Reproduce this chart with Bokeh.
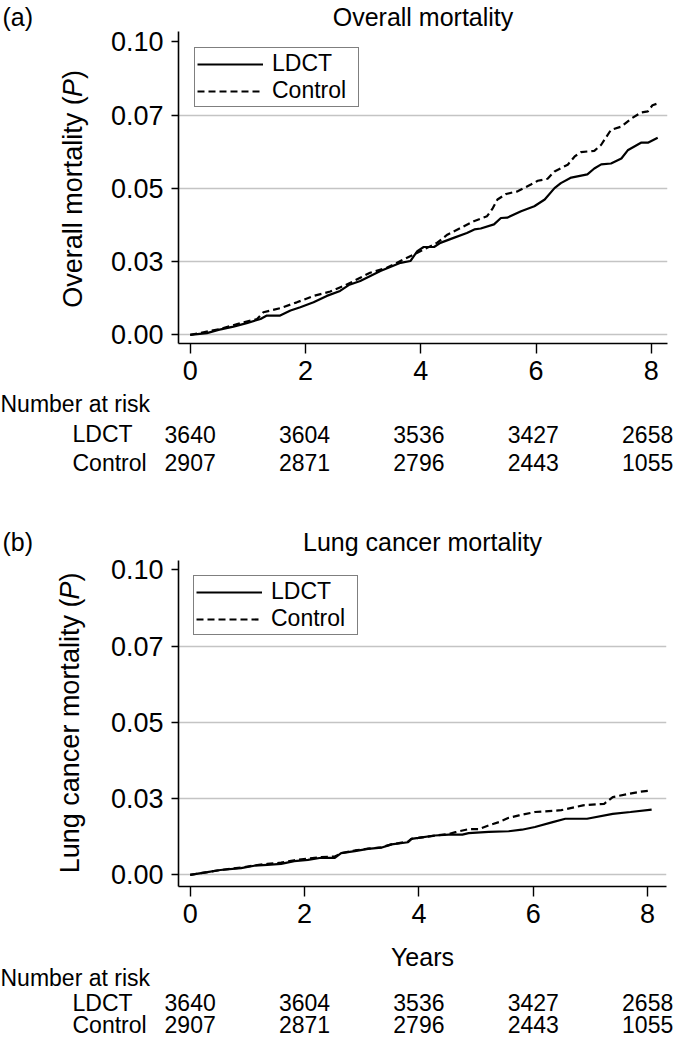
import math
from bokeh.plotting import figure
from bokeh.models import Range1d, FixedTicker, Legend, LegendItem, Title
from bokeh.core.properties import value
from bokeh.layouts import column, row
from bokeh.embed import file_html
from bokeh.resources import INLINE

# ---------------- data ----------------
years_ticks = [0, 2, 4, 6, 8]
y_ticks = [0.0, 0.025, 0.05, 0.075, 0.10]
y_tick_labels = ["0.00", "0.03", "0.05", "0.07", "0.10"]
grid_ticks = [0.0, 0.025, 0.05, 0.075]

risk_groups = ["LDCT", "Control"]
risk_ldct = [3640, 3604, 3536, 3427, 2658]
risk_control = [2907, 2871, 2796, 2443, 1055]

# (a) overall mortality
a_ldct_x = [0.0, 0.29, 0.49, 0.75, 0.98, 1.22, 1.33, 1.56, 1.74, 1.91, 2.14, 2.37, 2.6, 2.75,
            2.95, 3.3, 3.65, 3.82, 3.94, 4.05, 4.23, 4.34, 4.57, 4.8, 4.93, 5.04, 5.27, 5.39,
            5.5, 5.74, 5.97, 6.15, 6.32, 6.43, 6.61, 6.89, 7.01, 7.13, 7.3, 7.48, 7.59, 7.82,
            7.94, 8.11]
a_ldct_y = [0.0, 0.0006, 0.0017, 0.0028, 0.004, 0.0054, 0.0066, 0.0066, 0.0083, 0.0094,
            0.0111, 0.0133, 0.015, 0.017, 0.0184, 0.0218, 0.0246, 0.0252, 0.0286, 0.03, 0.03,
            0.0314, 0.0331, 0.0348, 0.036, 0.0363, 0.0377, 0.0399, 0.04, 0.0422, 0.0439,
            0.0462, 0.0501, 0.0518, 0.0537, 0.0548, 0.0568, 0.0582, 0.0585, 0.0602, 0.063,
            0.0656, 0.0656, 0.0673]
a_ctrl_x = [0.0, 0.52, 0.87, 1.16, 1.27, 1.56, 1.85, 2.14, 2.43, 2.7, 2.95, 3.12, 3.41, 3.7,
            3.94, 4.11, 4.28, 4.46, 4.69, 4.92, 5.15, 5.25, 5.33, 5.48, 5.68, 5.91, 6.03, 6.2,
            6.32, 6.55, 6.67, 6.78, 7.01, 7.13, 7.3, 7.48, 7.65, 7.82, 7.94, 8.02, 8.11]
a_ctrl_y = [0.0, 0.002, 0.004, 0.0054, 0.0077, 0.0091, 0.0111, 0.0133, 0.0148, 0.017, 0.0195,
            0.0212, 0.0229, 0.0257, 0.028, 0.0297, 0.0314, 0.0342, 0.0365, 0.0388, 0.0405,
            0.0433, 0.0462, 0.0481, 0.049, 0.0513, 0.0526, 0.0533, 0.0558, 0.0581, 0.0609,
            0.0624, 0.0628, 0.0649, 0.07, 0.0711, 0.0738, 0.0759, 0.0763, 0.0784, 0.079]

# (b) lung cancer mortality
b_ldct_x = [0.0, 0.3, 0.53, 0.89, 1.12, 1.35, 1.59, 1.82, 2.06, 2.29, 2.53, 2.64, 2.88, 3.11,
            3.34, 3.52, 3.81, 3.87, 3.99, 4.28, 4.52, 4.76, 4.87, 5.22, 5.57, 5.8, 6.03, 6.34,
            6.56, 6.94, 7.39, 7.7, 8.07]
b_ldct_y = [0.0, 0.0009, 0.0016, 0.0022, 0.003, 0.0033, 0.0036, 0.0045, 0.0049, 0.0056,
            0.0056, 0.0071, 0.0078, 0.0085, 0.0089, 0.01, 0.0107, 0.0118, 0.0121, 0.0129,
            0.0132, 0.0132, 0.0137, 0.0141, 0.0143, 0.0148, 0.0157, 0.0173, 0.0184, 0.0184,
            0.02, 0.0206, 0.0214]
b_ctrl_x = [0.0, 0.3, 0.53, 0.89, 1.12, 1.35, 1.59, 1.82, 2.06, 2.29, 2.53, 2.64, 2.88, 3.11,
            3.34, 3.52, 3.81, 3.87, 3.99, 4.28, 4.52, 4.64, 4.87, 5.05, 5.22, 5.4, 5.57, 5.75,
            6.03, 6.49, 6.87, 7.24, 7.39, 7.85, 8.07]
b_ctrl_y = [0.0, 0.0009, 0.0016, 0.0024, 0.0031, 0.0036, 0.004, 0.0048, 0.0053, 0.0058,
            0.006, 0.0071, 0.008, 0.0086, 0.009, 0.01, 0.0109, 0.0118, 0.0121, 0.0129, 0.0134,
            0.014, 0.015, 0.015, 0.0162, 0.0173, 0.0187, 0.0195, 0.0206, 0.0212, 0.0228,
            0.0233, 0.0255, 0.0272, 0.0277]

# ---------------- layout helpers ----------------
FONT = "Liberation Sans"
W = 674          # total width
YL_W = 100       # width of the y-label strip
PLOT_W = W - YL_W
PLOT_LEFT = 78   # border inside plot figure -> frame starts at x=178 overall
FRAME_LEFT = YL_W + PLOT_LEFT
MID = 0.3465     # distance (em) from the text's middle down to its baseline

CHAR_W = {"O": .778, "v": .5, "e": .556, "r": .333, "a": .556, "l": .222, " ": .278,
          "m": .833, "o": .556, "t": .278, "i": .222, "y": .5, "(": .333, ")": .333,
          "P": .667, "L": .556, "u": .556, "n": .556, "g": .556, "c": .5}


def text_w(s, size):
    return sum(CHAR_W.get(ch, .556) for ch in s) * size


def make_title(txt, align, standoff, offset=0):
    return Title(text=txt, align=align, standoff=standoff, offset=offset,
                 text_font=FONT, text_font_size="25px", text_font_style="normal",
                 text_color="black")


def blank(width, height, xr, yr, top=0, bottom=0):
    f = figure(width=width, height=height, output_backend="svg", toolbar_location=None,
               x_range=Range1d(*xr), y_range=Range1d(*yr), min_border=0,
               min_border_left=0, min_border_right=0, min_border_top=top,
               min_border_bottom=bottom,
               x_axis_location=None, y_axis_location=None, title=None)
    f.outline_line_color = None
    f.grid.visible = False
    f.background_fill_color = "white"
    f.border_fill_color = "white"
    return f


def put_text(f, x, y, txt, size, align="left", angle=0.0, style="normal"):
    f.text(x=[x], y=[y], text=[txt], text_font=value(FONT),
           text_font_size=value(f"{size}px"), text_color="black", text_align=align,
           text_baseline="middle", angle=angle, text_font_style=style)


def ylabel_fig(height, frame_h, bottom, letter, standoff, label, base_x, center_from_bottom):
    f = blank(YL_W, height, (0, YL_W), (0, frame_h), top=0, bottom=bottom)
    f.title = make_title(letter, "left", standoff, offset=2)
    size = 27
    pieces = [(label + " (", "normal"), ("P", "italic"), (")", "normal")]
    total = sum(text_w(s, size) for s, _ in pieces)
    y = center_from_bottom - total / 2.0
    xm = base_x - MID * size
    for s, st in pieces:
        w = text_w(s, size)
        put_text(f, xm, y + w / 2.0, s, size, align="center", angle=math.pi / 2,
                 style=st)
        y += w
    return f


def plot_fig(height, right, bottom, title, standoff, xr, yr, lx, ly, cx, cy, legend_margin):
    p = figure(width=PLOT_W, height=height, output_backend="svg", toolbar_location=None,
               x_range=Range1d(*xr), y_range=Range1d(*yr),
               min_border_left=PLOT_LEFT, min_border_right=right, min_border_top=0,
               min_border_bottom=bottom, title=make_title(title, "center", standoff))
    p.outline_line_color = None
    p.background_fill_color = "white"
    p.border_fill_color = "white"
    p.xgrid.visible = False
    p.ygrid.ticker = FixedTicker(ticks=grid_ticks)
    p.ygrid.grid_line_color = "#c4c4c4"
    p.ygrid.grid_line_width = 1.3
    for ax in (p.xaxis[0], p.yaxis[0]):
        ax.axis_line_width = 1.6
        ax.axis_line_color = "black"
        ax.major_tick_line_width = 1.4
        ax.major_tick_line_color = "black"
        ax.major_tick_in = 0
        ax.minor_tick_out = 0
        ax.minor_tick_in = 0
        ax.major_label_text_font = FONT
        ax.major_label_text_font_size = "27px"
        ax.major_label_text_color = "black"
    p.xaxis.ticker = FixedTicker(ticks=years_ticks)
    p.xaxis.major_tick_out = 10
    p.xaxis.major_label_standoff = 7
    p.yaxis.ticker = FixedTicker(ticks=y_ticks)
    p.yaxis.major_label_overrides = {t: s for t, s in zip(y_ticks, y_tick_labels)}
    p.yaxis.major_tick_out = 7
    p.yaxis.major_label_standoff = 8

    r1 = p.line(lx, ly, line_color="black", line_width=2.2)
    r2 = p.line(cx, cy, line_color="black", line_width=2.2, line_dash="7 4")
    leg = Legend(items=[LegendItem(label="LDCT", renderers=[r1]),
                        LegendItem(label="Control", renderers=[r2])],
                 location="top_left", margin=legend_margin,
                 border_line_color="black", border_line_width=1.6,
                 background_fill_color="white", background_fill_alpha=1.0,
                 label_text_font=FONT, label_text_font_size="23px",
                 label_text_color="black", label_width=84,
                 label_standoff=9, glyph_width=66, glyph_height=18,
                 label_height=18, padding=2, spacing=0)
    p.add_layout(leg)
    return p


def text_strip(height, xr, frame_w, items, risk_rows):
    """Full-width text strip whose x scale matches the plot frame above it."""
    ppu = frame_w / (xr[1] - xr[0])
    x0 = xr[0] - FRAME_LEFT / ppu
    x1 = xr[0] + (W - FRAME_LEFT) / ppu
    f = blank(W, height, (x0, x1), (0, height))

    def X(px):
        return x0 + px / ppu

    def Y(base, size):
        return height - (base - MID * size)

    for txt, px, base, size, align in items:
        put_text(f, X(px), Y(base, size), txt, size, align=align)
    for grp, vals, base in zip(risk_groups, [risk_ldct, risk_control], risk_rows):
        put_text(f, X(72), Y(base, 23), grp, 23)
        f.text(x=years_ticks, y=[Y(base, 23)] * len(years_ticks),
               text=[str(v) for v in vals], text_font=value(FONT),
               text_font_size=value("23px"), text_color="black", text_align="center",
               text_baseline="middle")
    return f


# ---------------- panel (a) ----------------
a_xr = (-0.203, 8.28)
a_yr = (-0.00295, 0.10356)
a_frame_w = PLOT_W - PLOT_LEFT - 7
A_H, A_FRAME, A_BOT = 390, 314, 47

# ---------------- panel (b) ----------------
b_xr = (-0.204, 8.33)
b_yr = (-0.00381, 0.10303)
b_frame_w = PLOT_W - PLOT_LEFT - 8
b_center = FRAME_LEFT + b_frame_w / 2.0
B_H, B_FRAME, B_BOT = 409, 328, 44

ya = ylabel_fig(A_H, A_FRAME, A_BOT, "(a)", 1, "Overall mortality", 82, 156)
pa = plot_fig(A_H, 7, A_BOT, "Overall mortality", 1, a_xr, a_yr,
              a_ldct_x, a_ldct_y, a_ctrl_x, a_ctrl_y, 16)

# risk table strips use the same column positions in both panels
mid = text_strip(131, b_xr, b_frame_w,
                 [("Number at risk", 0, 21.7, 23, "left")],
                 [51.7, 80])

yb = ylabel_fig(B_H, B_FRAME, B_BOT, "(b)", 9, "Lung cancer mortality", 79, 165)
pb = plot_fig(B_H, 8, B_BOT, "Lung cancer mortality", 9, b_xr, b_yr,
              b_ldct_x, b_ldct_y, b_ctrl_x, b_ctrl_y, 15)

bottom = text_strip(120, b_xr, b_frame_w,
                    [("Years", b_center, 35, 25, "center"),
                     ("Number at risk", 0, 55, 23, "left")],
                    [80, 102])

layout = column(row(ya, pa, spacing=0), mid, row(yb, pb, spacing=0), bottom, spacing=0)
open("out.html", "w").write(file_html(layout, INLINE))
